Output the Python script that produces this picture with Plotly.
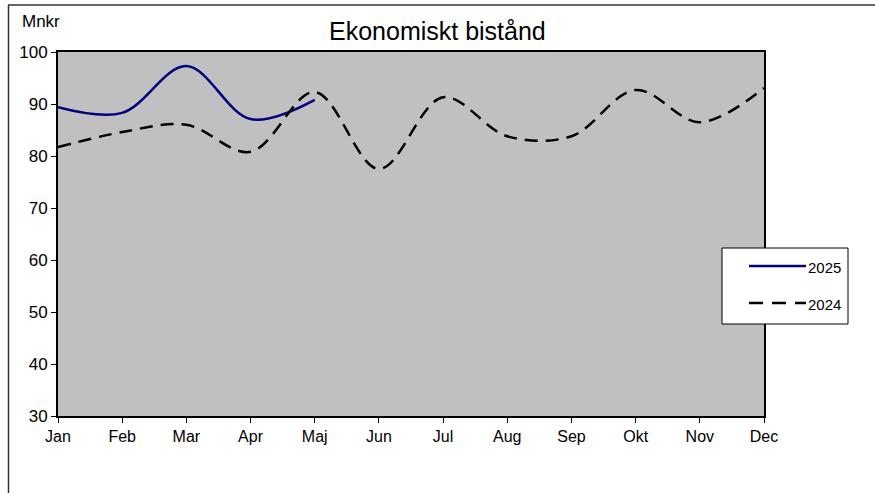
import plotly.graph_objects as go

months = ["Jan", "Feb", "Mar", "Apr", "Maj", "Jun", "Jul", "Aug", "Sep", "Okt", "Nov", "Dec"]
values_2025 = [89.4, 88.3, 97.3, 87.1, 90.8]
values_2024 = [81.7, 84.6, 86.0, 80.8, 92.3, 77.5, 91.3, 83.8, 83.8, 92.7, 86.5, 93.1]
y_ticks = [30, 40, 50, 60, 70, 80, 90, 100]
series_names = ["2025", "2024"]

x_idx = list(range(len(months)))

C2025 = "#000080"
C2024 = "#000000"
DASH = "13px,8px"

fig = go.Figure()
fig.add_trace(go.Scatter(
    x=x_idx[:len(values_2025)], y=values_2025, name=series_names[0], mode="lines",
    line=dict(color=C2025, width=2.5, shape="spline", smoothing=1.0),
    showlegend=False,
))
fig.add_trace(go.Scatter(
    x=x_idx, y=values_2024, name=series_names[1], mode="lines",
    line=dict(color=C2024, width=2.5, shape="spline", smoothing=1.0, dash=DASH),
    showlegend=False,
))

L, R, T, B = 58, 111, 52, 77
W, H = 875, 493
pw, ph = W - L - R, H - T - B

def px(xp):
    return (xp - L) / pw

def py(yp):
    return (H - B - yp) / ph

shapes = [
    dict(type="line", xref="paper", yref="paper",
         x0=px(8.5), x1=px(8.5), y0=py(5), y1=py(493),
         line=dict(color="#333333", width=1.5)),
    dict(type="line", xref="paper", yref="paper",
         x0=px(8), x1=px(875), y0=py(5), y1=py(5),
         line=dict(color="#333333", width=1.5)),
    # legend box
    dict(type="rect", xref="paper", yref="paper",
         x0=px(722), x1=px(848), y0=py(248), y1=py(324),
         fillcolor="white", line=dict(color="black", width=1), layer="above"),
    dict(type="line", xref="paper", yref="paper",
         x0=px(749), x1=px(806), y0=py(266), y1=py(266),
         line=dict(color=C2025, width=2.5), layer="above"),
    dict(type="line", xref="paper", yref="paper",
         x0=px(749), x1=px(806), y0=py(303), y1=py(303),
         line=dict(color=C2024, width=2.5, dash="14px,9px"), layer="above"),
]

fig.update_layout(
    width=W, height=H,
    margin=dict(l=L, r=R, t=T, b=B),
    paper_bgcolor="white",
    plot_bgcolor="#c0c0c0",
    font=dict(family="Liberation Sans, Arial, sans-serif", color="black", size=14),
    showlegend=False,
    xaxis=dict(
        range=[0, 11], tickmode="array", tickvals=x_idx, ticktext=months,
        showgrid=False, zeroline=False, ticks="outside", ticklen=5, tickcolor="black",
        showline=True, linecolor="black", linewidth=2, mirror=True,
        tickfont=dict(size=16),
    ),
    yaxis=dict(
        range=[30, 100], tickmode="array", tickvals=y_ticks,
        showgrid=False, zeroline=False, ticks="outside", ticklen=5, tickcolor="black",
        showline=True, linecolor="black", linewidth=2, mirror=True,
        tickfont=dict(size=17),
    ),
    annotations=[
        dict(text="Ekonomiskt bistånd", xref="paper", yref="paper",
             x=px(437), y=py(31), xanchor="center", yanchor="middle",
             showarrow=False, font=dict(size=25)),
        dict(text="Mnkr", xref="paper", yref="paper",
             x=px(20), y=py(21), xanchor="left", yanchor="middle",
             showarrow=False, font=dict(size=17)),
        dict(text=series_names[0], xref="paper", yref="paper",
             x=px(806), y=py(267), xanchor="left", yanchor="middle",
             showarrow=False, font=dict(size=15)),
        dict(text=series_names[1], xref="paper", yref="paper",
             x=px(806), y=py(304), xanchor="left", yanchor="middle",
             showarrow=False, font=dict(size=15)),
    ],
    shapes=shapes,
)

fig.write_html("out.html", config={"displayModeBar": False},
               post_script="document.body.style.margin='0';document.body.style.overflow='hidden';")
